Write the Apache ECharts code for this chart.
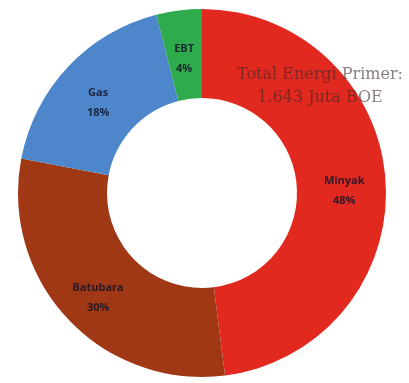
<!DOCTYPE html>
<html>
<head>
<meta charset="utf-8">
<script src="https://cdn.jsdelivr.net/npm/echarts@6/dist/echarts.min.js"></script>
<style>html,body{margin:0;padding:0;background:#fff;}#c{width:409px;height:383px;}</style>
</head>
<body>
<div id="c"></div>
<script>
const categories = ['Minyak', 'Batubara', 'Gas', 'EBT'];
const values = [48, 30, 18, 4];
const colors = ['#E2291F', '#A03816', '#4E86CC', '#2FAA4C'];
const titleLines = ['Total Energi Primer:', '1.643 Juta BOE'];

const chart = echarts.init(document.getElementById('c'));
chart.setOption({
  animation: false,
  series: [{
    type: 'pie',
    center: [202, 193],
    radius: [95, 184],
    startAngle: 90,
    clockwise: true,
    label: {
      show: true,
      position: 'inside',
      formatter: p => p.name + '\n' + p.value + '%',
      fontFamily: 'Open Sans',
      fontWeight: 'bold',
      fontSize: 11,
      lineHeight: 20,
      offset: [0, 7],
      color: 'rgba(20,20,40,0.85)'
    },
    labelLine: { show: false },
    itemStyle: { borderWidth: 0 },
    data: categories.map((c, i) => ({ name: c, value: values[i], itemStyle: { color: colors[i] } }))
  }],
  graphic: [{
    type: 'text',
    z: 100,
    x: 320,
    y: 86,
    style: {
      text: titleLines.join('\n'),
      align: 'center',
      verticalAlign: 'middle',
      fontFamily: 'DejaVu Serif',
      fontSize: 16,
      lineHeight: 23,
      fill: 'rgba(60,40,40,0.6)'
    }
  }]
});
</script>
</body>
</html>
